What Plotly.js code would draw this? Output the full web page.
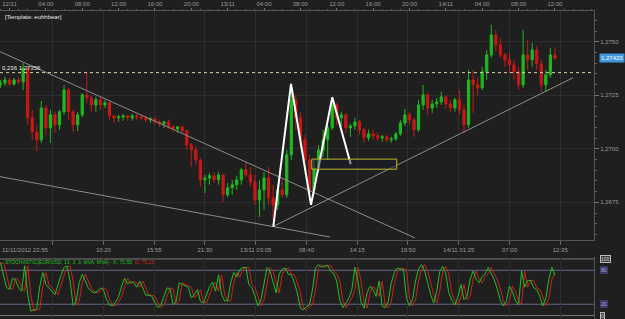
<!DOCTYPE html>
<html><head><meta charset="utf-8">
<script src="https://cdn.plot.ly/plotly-3.0.1.min.js"></script>
<style>html,body{margin:0;padding:0;background:#1f1f1f;}#chart{width:625px;height:319px;}</style>
</head><body><div id="chart"></div>
<script>
// Time is expressed in hours from 12/11/2012 00:00
const barStartHour = -1;      // 11/11 23:00
const barStepHours = 0.5;     // 30-minute bars
const openP = [
1.27299,1.27308,1.27322,1.27303,1.27322,1.27313,1.27378,1.27145,1.27079,1.27042,
1.27191,1.27098,1.27159,1.27112,1.27173,1.27275,1.27173,1.27112,1.27159,1.27252,
1.27238,1.27205,1.27229,1.27205,1.27215,1.27154,1.27145,1.27149,1.27154,1.27145,
1.27154,1.27149,1.27145,1.27135,1.27140,1.27126,1.27117,1.27126,1.27103,1.27093,
1.27103,1.27084,1.27018,1.26995,1.26948,1.26855,1.26864,1.26874,1.26855,1.26878,
1.26785,1.26818,1.26832,1.26855,1.26902,1.26878,1.26846,1.26761,1.26808,1.26864,
1.26771,1.26738,1.26808,1.26785,1.26972,1.27229,1.27145,1.27042,1.26948,1.26808,
1.26911,1.26995,1.27042,1.27098,1.27205,1.27145,1.27159,1.27098,1.27107,1.27126,
1.27089,1.27051,1.27070,1.27061,1.27051,1.27056,1.27042,1.27046,1.27070,1.27121,
1.27159,1.27135,1.27089,1.27205,1.27252,1.27191,1.27210,1.27219,1.27243,1.27210,
1.27191,1.27229,1.27182,1.27112,1.27322,1.27299,1.27285,1.27360,1.27439,1.27532,
1.27486,1.27439,1.27416,1.27392,1.27360,1.27299,1.27439,1.27416,1.27462,1.27397,
1.27299,1.27346,1.27439];
const highP = [
1.27322,1.27336,1.27332,1.27332,1.27336,1.27402,1.27388,1.27182,1.27112,1.27224,
1.27205,1.27182,1.27173,1.27182,1.27299,1.27285,1.27182,1.27173,1.27261,1.27360,
1.27247,1.27243,1.27243,1.27229,1.27219,1.27159,1.27159,1.27163,1.27159,1.27163,
1.27163,1.27159,1.27154,1.27149,1.27149,1.27135,1.27131,1.27135,1.27112,1.27107,
1.27107,1.27089,1.27028,1.27014,1.26958,1.26878,1.26888,1.26892,1.26892,1.26883,
1.26841,1.26855,1.26874,1.26911,1.26939,1.26916,1.26878,1.26855,1.26892,1.26916,
1.26832,1.26832,1.26855,1.26995,1.27299,1.27252,1.27173,1.27065,1.26972,1.26948,
1.27018,1.27089,1.27112,1.27238,1.27215,1.27173,1.27168,1.27117,1.27145,1.27135,
1.27098,1.27089,1.27089,1.27075,1.27065,1.27065,1.27056,1.27079,1.27135,1.27187,
1.27173,1.27145,1.27229,1.27299,1.27261,1.27229,1.27238,1.27266,1.27252,1.27229,
1.27238,1.27275,1.27205,1.27369,1.27369,1.27336,1.27383,1.27462,1.27579,1.27556,
1.27518,1.27448,1.27448,1.27416,1.27383,1.27556,1.27509,1.27495,1.27481,1.27416,
1.27369,1.27472,1.27476];
const lowP = [
1.27285,1.27294,1.27294,1.27294,1.27303,1.27275,1.27112,1.27042,1.26990,1.27028,
1.27065,1.27028,1.27075,1.27089,1.27159,1.27135,1.27079,1.27084,1.27149,1.27215,
1.27173,1.27173,1.27182,1.27191,1.27135,1.27121,1.27126,1.27131,1.27131,1.27131,
1.27135,1.27131,1.27126,1.27121,1.27117,1.27103,1.27098,1.27093,1.27079,1.27075,
1.27075,1.26995,1.26916,1.26925,1.26822,1.26794,1.26832,1.26841,1.26832,1.26752,
1.26775,1.26785,1.26808,1.26832,1.26864,1.26822,1.26738,1.26682,1.26715,1.26738,
1.26668,1.26715,1.26771,1.26771,1.26948,1.27089,1.27004,1.26911,1.26761,1.26785,
1.26892,1.26962,1.26948,1.27089,1.27112,1.27103,1.27075,1.27056,1.27089,1.27065,
1.27028,1.27037,1.27042,1.27037,1.27032,1.27032,1.27028,1.27037,1.27061,1.27107,
1.27112,1.27056,1.27079,1.27182,1.27159,1.27168,1.27191,1.27205,1.27191,1.27173,
1.27173,1.27159,1.27075,1.27098,1.27168,1.27252,1.27275,1.27322,1.27425,1.27453,
1.27425,1.27383,1.27355,1.27322,1.27275,1.27285,1.27369,1.27383,1.27369,1.27266,
1.27266,1.27332,1.27416];
const closeP = [
1.27308,1.27322,1.27303,1.27322,1.27313,1.27378,1.27145,1.27079,1.27042,1.27191,
1.27098,1.27159,1.27112,1.27173,1.27275,1.27173,1.27112,1.27159,1.27252,1.27238,
1.27205,1.27229,1.27205,1.27215,1.27154,1.27145,1.27149,1.27154,1.27145,1.27154,
1.27149,1.27145,1.27135,1.27140,1.27126,1.27117,1.27126,1.27103,1.27093,1.27103,
1.27084,1.27018,1.26995,1.26948,1.26855,1.26864,1.26874,1.26855,1.26878,1.26785,
1.26818,1.26832,1.26855,1.26902,1.26878,1.26846,1.26761,1.26808,1.26864,1.26771,
1.26738,1.26808,1.26785,1.26972,1.27229,1.27145,1.27042,1.26948,1.26808,1.26911,
1.26995,1.27042,1.27098,1.27205,1.27145,1.27159,1.27098,1.27107,1.27126,1.27089,
1.27051,1.27070,1.27061,1.27051,1.27056,1.27042,1.27046,1.27070,1.27121,1.27159,
1.27135,1.27089,1.27205,1.27252,1.27191,1.27210,1.27219,1.27243,1.27210,1.27191,
1.27229,1.27182,1.27112,1.27322,1.27299,1.27285,1.27360,1.27439,1.27532,1.27486,
1.27439,1.27416,1.27392,1.27360,1.27299,1.27439,1.27416,1.27462,1.27397,1.27299,
1.27346,1.27439,1.27423];

// Stochastic (13,3,3) sampled every 20 minutes
const stochStartHour = -1;
const stochStepHours = 1/3;
const stochK = [
94,73,50,46,66,63,49,43,88,38, 8,10,12,52,76,55,48,43,37,56,
71,85,88,61,18,25,58,73,61,49, 43,40,43,49,46,29,19,17,24,33,
52,66,56,60,58,50,61,49,36,36, 34,22,14,19,33,49,47,19,25,58,
55,52,50,31,37,46,25,22,36,51, 59,43,72,37,26,26,58,76,68,81,
85,85,55,49,34,17,28,58,85,78, 61,40,73,82,84,73,72,58,40,13,
10,16,19,46,85,90,85,88,89,78, 74,61,27,14,22,31,46,85,61,24,
13,40,52,46,34,61,17,14,25,58, 76,84,82,82,31,17,28,61,82,90,
79,58,37,22,43,78,87,73,40,27, 19,33,55,28,34,64,79,64,58,69,
74,85,74,63,47,26,17,26,52,42, 26,19,79,50,62,62,49,46,34,17,
31,64,85,71];
const stochD = [
90,94,73,50,46,66,63,49,43,88, 38,8,10,12,52,76,55,48,43,37,
56,71,85,88,61,18,25,58,73,61, 49,43,40,43,49,46,29,19,17,24,
33,52,66,56,60,58,50,61,49,36, 36,34,22,14,19,33,49,47,19,25,
58,55,52,50,31,37,46,25,22,36, 51,59,43,72,37,26,26,58,76,68,
81,85,85,55,49,34,17,28,58,85, 78,61,40,73,82,84,73,72,58,40,
13,10,16,19,46,85,90,85,88,89, 78,74,61,27,14,22,31,46,85,61,
24,13,40,52,46,34,61,17,14,25, 58,76,84,82,82,31,17,28,61,82,
90,79,58,37,22,43,78,87,73,40, 27,19,33,55,28,34,64,79,64,58,
69,74,85,74,63,47,26,17,26,52, 42,26,19,79,50,62,62,49,46,34,
17,31,64,75];
const stochLevels = [100, 80, 20, 0];
const stochLevelText = ['100', '80', '20', '0'];

// Axis labels
const topTickHours = [0,4,8,12,16,20,24,28,32,36,40,44,48,52,56,60];
const topTickText = ['12/11','04:00','08:00','12:00','16:00','20:00','13/11','04:00','08:00','12:00','16:00','20:00','14/11','04:00','08:00','12:00'];
const bottomTickHours = [4.75,10.3333,15.9167,21.5,27.0833,32.6667,38.25,43.8333,49.4167,55,60.5833];
const bottomTickText = ['','10:20','15:55','21:30','13/11 03:05','08:40','14:15','19:50','14/11 01:25','07:00','12:35'];
const firstBarLabel = '11/11/2012 22:55';
const priceTicks = [1.2675, 1.2700, 1.2725, 1.2750];
const priceTickText = ['1,2675','1,2700','1,2725','1,2750'];
const lastPrice = 1.27423, lastPriceText = '1,27423';

// Drawing tools
const fibLevel = 1.27356, fibText = '0,236 1,27356';
const upperTrendHours = [-1.045, 44.6],  upperTrendPrices = [1.27454, 1.26584];
const lowerTrendHours = [-1.045, 35.26], lowerTrendPrices = [1.26870, 1.26588];
const riseTrendHours  = [29.0, 61.99],   riseTrendPrices  = [1.26637, 1.27332];
const zigzagHours  = [29.02, 30.97, 33.17, 35.51, 37.54];
const zigzagPrices = [1.26637, 1.27303, 1.26738, 1.27241, 1.26928];
const boxHours = [33.25, 42.6], boxPrices = [1.26905, 1.26952];

const barHours = openP.map((_, i) => barStartHour + i * barStepHours);
const stochHours = stochK.map((_, i) => stochStartHour + i * stochStepHours);

const xRange = [-1.045, 64.30];
const xDom = [0, 0.9504];
const FONT = 'Liberation Sans, Arial, sans-serif';
const gridC = '#2e2e2e', txtC = '#9a9a9a', lineC = '#555';

const traces = [
  {type:'candlestick', x: barHours, open: openP, high: highP, low: lowP, close: closeP,
   xaxis:'x', yaxis:'y', hoverinfo:'skip', showlegend:false,
   increasing:{line:{color:'#1fb81f', width:1}, fillcolor:'#1fb81f'},
   decreasing:{line:{color:'#c81818', width:1}, fillcolor:'#c81818'}},
  {type:'scatter', mode:'lines', x: [xRange[0], xRange[1]], y: [fibLevel, fibLevel], xaxis:'x3', yaxis:'y',
   line:{color:'#ddd6a8', width:1, dash:'dot'}, hoverinfo:'skip', showlegend:false},
  {type:'scatter', mode:'lines', x: upperTrendHours, y: upperTrendPrices, xaxis:'x', yaxis:'y',
   line:{color:'#8c8c8c', width:1}, hoverinfo:'skip', showlegend:false},
  {type:'scatter', mode:'lines', x: lowerTrendHours, y: lowerTrendPrices, xaxis:'x', yaxis:'y',
   line:{color:'#8c8c8c', width:1}, hoverinfo:'skip', showlegend:false},
  {type:'scatter', mode:'lines', x: riseTrendHours, y: riseTrendPrices, xaxis:'x', yaxis:'y',
   line:{color:'#8c8c8c', width:1}, hoverinfo:'skip', showlegend:false},
  {type:'scatter', mode:'lines', x: zigzagHours, y: zigzagPrices, xaxis:'x', yaxis:'y',
   line:{color:'#ffffff', width:2}, hoverinfo:'skip', showlegend:false},
  {type:'scatter', mode:'lines', x: stochHours, y: stochD, xaxis:'x2', yaxis:'y2',
   line:{color:'#d02020', width:1}, hoverinfo:'skip', showlegend:false},
  {type:'scatter', mode:'lines', x: stochHours, y: stochK, xaxis:'x2', yaxis:'y2',
   line:{color:'#22c022', width:1}, hoverinfo:'skip', showlegend:false}
];

const shapes = [
  {type:'rect', xref:'x', yref:'y', x0: boxHours[0], x1: boxHours[1], y0: boxPrices[0], y1: boxPrices[1],
   line:{color:'#c8b82a', width:1}, fillcolor:'rgba(25,25,45,0.45)', layer:'above'}
];
stochLevels.forEach((lv, i) => {
  shapes.push({type:'line', xref:'paper', yref:'y2', x0: xDom[0], x1: xDom[1], y0: lv, y1: lv,
    line:{color: (lv === 80 || lv === 20) ? '#66668e' : '#7a7a7a', width:1}, layer:'below'});
});

const annotations = [
  {xref:'paper', yref:'paper', x:0.005, y:0.946, xanchor:'left', yanchor:'middle', showarrow:false,
   text:'[Template: euhhbear]', font:{family:FONT, size:6, color:'#e6e6e6'}},
  {xref:'paper', yref:'y', x:0.0, y: fibLevel, xanchor:'left', yanchor:'bottom', showarrow:false,
   text: fibText, font:{family:FONT, size:6, color:'#e6e6e6'}},
  {xref:'paper', yref:'paper', x:0.0, y:0.216, xanchor:'left', yanchor:'middle', showarrow:false,
   text: firstBarLabel, font:{family:FONT, size:6, color:txtC}},
  {xref:'paper', yref:'y', x: xDom[1], y: lastPrice, xanchor:'left', yanchor:'middle', xshift:5, showarrow:false,
   text: lastPriceText, bgcolor:'#3f97e0', borderpad:1, font:{family:FONT, size:6, color:'#ffffff'}},
  {xref:'paper', yref:'paper', x:0.005, y:0.18, xanchor:'left', yanchor:'middle', showarrow:false,
   text:'STOCHASTIC(EUR/USD, 13, 3, 3, MVA, MVA) - K: 70,55  <span style="color:#d82020">D: 75,23</span>',
   font:{family:FONT, size:5, color:'#22c022'}}
];
stochLevels.forEach((lv, i) => {
  const mid = (lv === 80 || lv === 20);
  annotations.push({xref:'paper', yref:'y2', x: xDom[1], y: lv, xanchor:'left', yanchor:'middle', xshift:6,
    showarrow:false, text: stochLevelText[i], bgcolor: mid ? '#3a3a6c' : '#3a3a3a',
    bordercolor: mid ? '#3a3a6c' : '#bbbbbb', borderwidth:1, borderpad:0,
    font:{family:FONT, size:5, color: mid ? '#b0b0d8' : '#dddddd'}});
});

const layout = {
  width:625, height:319, margin:{l:0, r:0, t:0, b:0},
  paper_bgcolor:'#1f1f1f', plot_bgcolor:'#1f1f1f', showlegend:false,
  font:{family:FONT, size:6, color:txtC},
  xaxis:{domain:xDom, range:xRange, anchor:'y', side:'bottom', tickmode:'array',
    tickvals: bottomTickHours, ticktext: bottomTickText, ticks:'outside', ticklen:4, tickcolor:'#666',
    showgrid:true, gridcolor:gridC, showline:true, linecolor:lineC, zeroline:false,
    tickfont:{family:FONT, size:6, color:txtC}, rangeslider:{visible:false}, fixedrange:true},
  xaxis3:{overlaying:'x', anchor:'y', side:'top', range:xRange, tickmode:'array',
    tickvals: topTickHours, ticktext: topTickText, ticks:'outside', ticklen:2, tickcolor:'#777',
    minor:{tickmode:'linear', tick0:0, dtick:1, ticks:'outside', ticklen:1, tickcolor:'#666', showgrid:false},
    showgrid:false, showline:true, linecolor:lineC, zeroline:false,
    tickfont:{family:FONT, size:6, color:txtC}, fixedrange:true},
  yaxis:{domain:[0.2476, 0.9655], range:[1.26574, 1.27644], anchor:'x', side:'right', tickmode:'array',
    tickvals: priceTicks, ticktext: priceTickText, ticks:'outside', ticklen:4, tickcolor:'#777',
    minor:{tickmode:'linear', tick0:1.2675, dtick:0.0005, ticks:'outside', ticklen:2, tickcolor:'#666', showgrid:false},
    showgrid:true, gridcolor:gridC, showline:true, linecolor:lineC, zeroline:false,
    tickfont:{family:FONT, size:6, color:txtC}, fixedrange:true},
  xaxis2:{domain:xDom, range:xRange, anchor:'y2', tickmode:'array', tickvals: bottomTickHours,
    showticklabels:false, ticks:'', showgrid:true, gridcolor:gridC, showline:false, zeroline:false, fixedrange:true},
  yaxis2:{domain:[0.003, 0.1944], range:[-4.4, 103.5], anchor:'x2', side:'right', showticklabels:false,
    ticks:'', showgrid:false, showline:true, linecolor:lineC, zeroline:false, fixedrange:true},
  shapes: shapes, annotations: annotations
};

Plotly.newPlot('chart', traces, layout, {displayModeBar:false, staticPlot:true});
</script>
</body></html>
